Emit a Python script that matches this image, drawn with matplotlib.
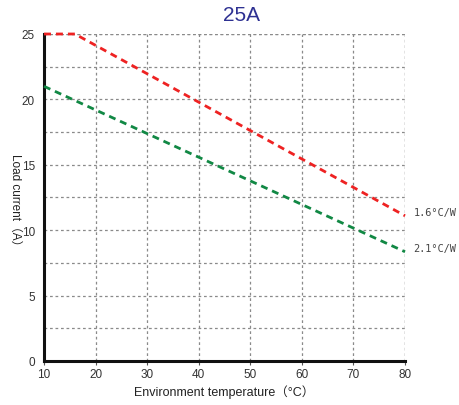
import matplotlib
matplotlib.use("Agg")
import matplotlib.pyplot as plt

plt.rcParams['font.family'] = ['Liberation Sans', 'Noto Sans CJK SC', 'DejaVu Sans']

# data
red_x = [10, 16, 80]
red_y = [25, 25, 11.1]
green_x = [10, 80]
green_y = [21, 8.35]
series_labels = ["1.6°C/W", "2.1°C/W"]
x_ticks = [10, 20, 30, 40, 50, 60, 70, 80]
y_ticks = [0, 5, 10, 15, 20, 25]
y_minor = [2.5, 7.5, 12.5, 17.5, 22.5]

GRID = "#8a8a8a"
GRID_LS = (0, (2.2, 2.2))

fig = plt.figure(figsize=(4.6, 4.06), dpi=100)
ax = fig.add_axes([0.0957, 0.1084, 0.7848, 0.8054])

ax.set_xlim(10, 80)
ax.set_ylim(0, 25)
ax.set_xticks(x_ticks)
ax.set_yticks(y_ticks)
ax.set_yticks(y_minor, minor=True)
ax.grid(True, which="both", color=GRID, linestyle=GRID_LS, linewidth=0.9)
ax.tick_params(axis="y", which="both", length=0, labelsize=8.5, colors="#333333", pad=6.5)
ax.tick_params(axis="x", which="major", length=3, direction="out", width=0.8,
               color="#555555", labelsize=8.5, labelcolor="#333333", pad=2)

for s in ["top", "right"]:
    ax.spines[s].set_visible(False)
for s in ["left", "bottom"]:
    ax.spines[s].set_linewidth(2.2)
    ax.spines[s].set_color("#111111")
ax.axhline(25, color=GRID, linestyle=GRID_LS, linewidth=0.9, zorder=1)
ax.axvline(80, color=GRID, linestyle=GRID_LS, linewidth=0.9, zorder=1)

ax.plot(red_x, red_y, color="#ee2222", linewidth=2.0, linestyle=(0, (2.5, 1.8)),
        zorder=3, clip_on=False)
ax.plot(green_x, green_y, color="#118844", linewidth=2.0, linestyle=(0, (2.5, 1.8)),
        zorder=3, clip_on=False)

for yv, lab in [(red_y[-1], series_labels[0]), (green_y[-1], series_labels[1])]:
    ax.annotate(lab, (80, yv), xytext=(6, 2.5), textcoords="offset points",
                ha="left", va="center", fontsize=7.4, color="#444444",
                family=['DejaVu Sans Mono', 'DejaVu Sans'])

ax.set_xlabel("Environment temperature（°C）", fontsize=9, color="#222222", labelpad=3)
ax.set_ylabel("Load current（A）", fontsize=8.5, color="#222222", rotation=270,
              va="center", ha="center")
ax.yaxis.set_label_coords(-0.079, 0.486)

fig.text(0.524, 0.962, "25A", ha="center", va="center", fontsize=15,
         color="#2e3192", family=['Liberation Sans Narrow', 'Liberation Sans'])

fig.savefig("out.png", dpi=100)
